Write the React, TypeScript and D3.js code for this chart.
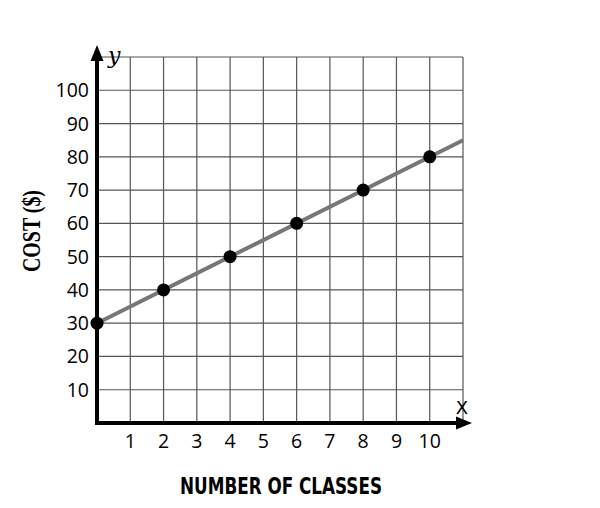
import React from "react";
import * as d3 from "d3";

const xTicks = [1, 2, 3, 4, 5, 6, 7, 8, 9, 10];
const yTicks = [10, 20, 30, 40, 50, 60, 70, 80, 90, 100];
const classes = [0, 2, 4, 6, 8, 10];
const costs = [30, 40, 50, 60, 70, 80];
const lineX = [0, 11];
const lineY = [30, 85];

export default function App() {
  const W = 600, H = 508;
  const x = d3.scaleLinear().domain([0, 11]).range([97, 463]);
  const y = d3.scaleLinear().domain([0, 110]).range([423, 57]);
  const gridX = d3.range(1, 12);
  const gridY = d3.range(1, 12).map((d) => d * 10);
  const line = d3.line<number>().x((d, i) => x(lineX[i])).y((d, i) => y(lineY[i]));
  return (
    <svg width={W} height={H} style={{ position: "absolute", left: 0, top: 0, background: "#fff" }}>
      <g stroke="#555" strokeWidth={1.2}>
        {gridX.map((g) => (
          <line key={"gx" + g} x1={x(g)} x2={x(g)} y1={y(110)} y2={y(0)} />
        ))}
        {gridY.map((g) => (
          <line key={"gy" + g} x1={x(0)} x2={x(11)} y1={y(g)} y2={y(g)} />
        ))}
      </g>
      <path d={line(lineY) || ""} stroke="#777" strokeWidth={4} fill="none" />
      {classes.map((c, i) => (
        <circle key={"p" + i} cx={x(c)} cy={y(costs[i])} r={6.5} fill="#000" />
      ))}
      <line x1={x(0)} x2={x(0)} y1={y(0) + 2} y2={58} stroke="#000" strokeWidth={4} />
      <path d={`M${x(0)},45 L${x(0) - 6.5},61 L${x(0) + 6.5},61 Z`} fill="#000" />
      <line x1={x(0) - 2} x2={458} y1={y(0)} y2={y(0)} stroke="#000" strokeWidth={4} />
      <path d={`M472,${y(0)} L456,${y(0) - 6.5} L456,${y(0) + 6.5} Z`} fill="#000" />
      <g fontFamily="'Open Sans', sans-serif" fontSize={19.5} fill="#000">
        {yTicks.map((t) => (
          <text key={"yt" + t} x={89} y={y(t)} dy="0.36em" textAnchor="end">{t}</text>
        ))}
        {xTicks.map((t) => (
          <text key={"xt" + t} x={x(t)} y={448} textAnchor="middle">{t}</text>
        ))}
      </g>
      <text x={108} y={63} fontFamily="'DejaVu Serif', serif" fontStyle="italic" fontSize={22} fill="#000">y</text>
      <text x={462} y={414} textAnchor="middle" fontFamily="'DejaVu Sans', sans-serif" fontSize={18} fill="#000">X</text>
      <text
        transform="translate(40,231) rotate(-90)"
        textAnchor="middle"
        fontFamily="'Liberation Serif', serif"
        fontWeight="bold"
        fontSize={25}
        fill="#000"
        textLength={82}
        lengthAdjust="spacingAndGlyphs"
      >
        COST ($)
      </text>
      <text
        x={281}
        y={494}
        textAnchor="middle"
        fontFamily="'DejaVu Sans Condensed', 'DejaVu Sans', sans-serif"
        fontWeight="bold"
        fontSize={23}
        fill="#000"
        textLength={202}
        lengthAdjust="spacingAndGlyphs"
      >
        NUMBER OF CLASSES
      </text>
    </svg>
  );
}
